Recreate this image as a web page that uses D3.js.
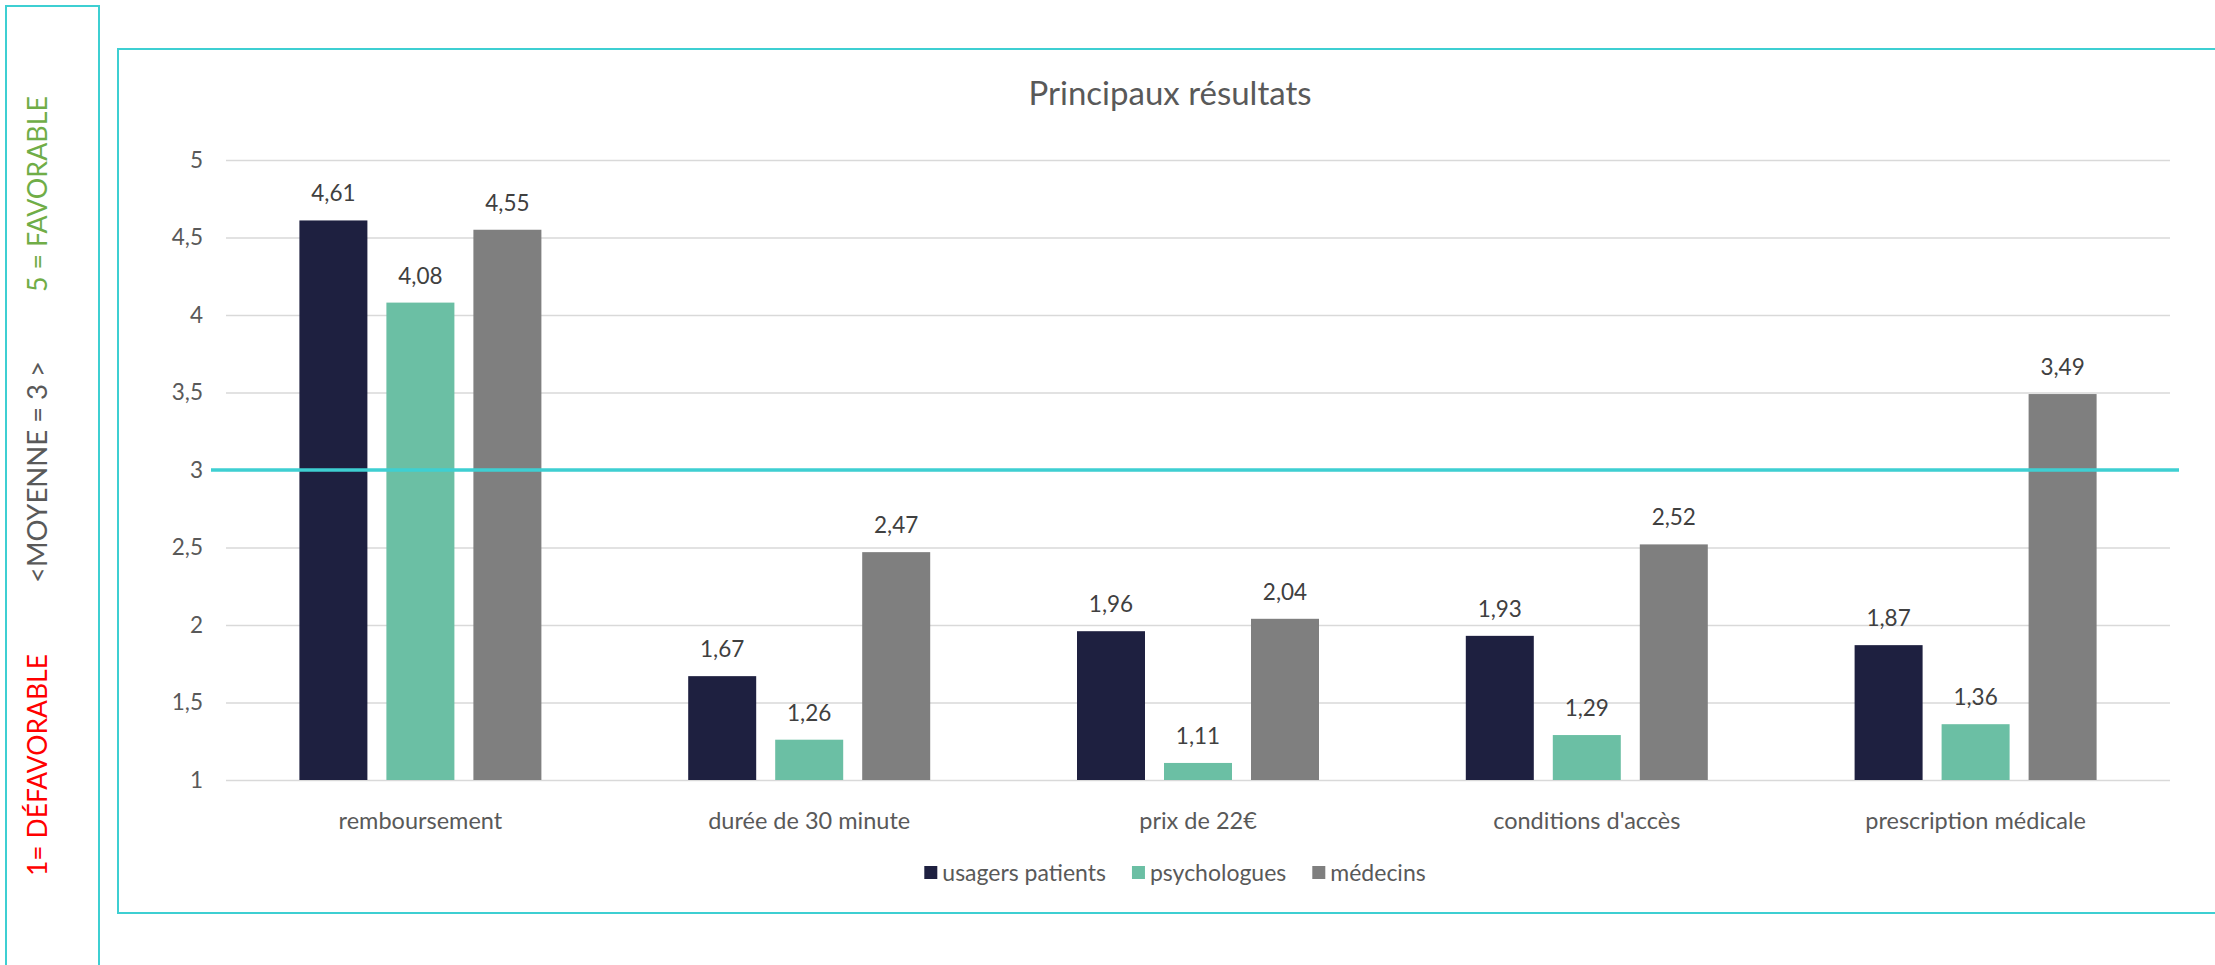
<!DOCTYPE html>
<html>
<head>
<meta charset="utf-8">
<script src="https://cdn.jsdelivr.net/npm/d3@7"></script>
<style>
    html, body { margin: 0; padding: 0; background: #fff; }
    svg { display: block; }
    text { font-family: Lato, "Noto Sans", sans-serif; }
</style>
</head>
<body>
<div id="chart"></div>
<script>
    'use strict';

    var categories = ['remboursement', 'durée de 30 minute', 'prix de 22€', 'conditions d\'accès', 'prescription médicale'],
        seriesNames = ['usagers patients', 'psychologues', 'médecins'],
        usagers = [4.61, 1.67, 1.96, 1.93, 1.87],
        psychologues = [4.08, 1.26, 1.11, 1.29, 1.36],
        medecins = [4.55, 2.47, 2.04, 2.52, 3.49],
        yTicks = [1, 1.5, 2, 2.5, 3, 3.5, 4, 4.5, 5],
        moyenne = 3,
        sideLabels = ['1= DÉFAVORABLE', '<MOYENNE = 3 >', '5 = FAVORABLE'];

    var width = 2215,
        height = 965,
        teal = '#3ECFD2',
        colors = ['#1E2040', '#6BBFA4', '#7F7F7F'],
        sideColors = ['#FF0000', '#595959', '#70AD47'],
        plot = { left: 226, right: 2170, top: 160, bottom: 780 },
        series = [usagers, psychologues, medecins],
        fr = d3.formatLocale({ decimal: ',', thousands: ' ', grouping: [3], currency: ['', '€'] }),
        fmt = fr.format('.2f'),
        fmtTick = function (v) { return String(v).replace('.', ','); };

    var svg = d3.select('#chart').append('svg')
        .attr('width', width)
        .attr('height', height);

    // frames
    svg.append('rect')
        .attr('x', 6).attr('y', 6)
        .attr('width', 93).attr('height', height + 10)
        .attr('fill', 'none')
        .attr('stroke', teal)
        .attr('stroke-width', 2);

    svg.append('rect')
        .attr('x', 118).attr('y', 49)
        .attr('width', width).attr('height', 864)
        .attr('fill', 'none')
        .attr('stroke', teal)
        .attr('stroke-width', 2);

    // side scale labels
    var sideY = [765, 472, 194];
    svg.selectAll('.side')
        .data(sideLabels)
        .enter()
        .append('text')
        .attr('class', 'side')
        .attr('transform', function (d, i) { return 'translate(47,' + sideY[i] + ') rotate(-90)'; })
        .attr('text-anchor', 'middle')
        .attr('font-family', '"Liberation Sans Narrow", "DejaVu Sans Condensed", sans-serif')
        .attr('font-size', 27)
        .attr('textLength', function (d, i) { return [222, 222, 196][i]; })
        .attr('lengthAdjust', 'spacingAndGlyphs')
        .attr('fill', function (d, i) { return sideColors[i]; })
        .text(function (d) { return d; });

    // title
    svg.append('text')
        .attr('x', 1170)
        .attr('y', 105)
        .attr('text-anchor', 'middle')
        .attr('font-size', 33)
        .attr('fill', '#595959')
        .text('Principaux résultats');

    var y = d3.scaleLinear()
        .domain([1, 5])
        .range([plot.bottom, plot.top]);

    var x = d3.scaleBand()
        .domain(categories)
        .range([plot.left, plot.right]);

    var xs = d3.scaleBand()
        .domain(seriesNames)
        .range([(x.bandwidth() - 242) / 2, (x.bandwidth() + 242) / 2])
        .paddingInner(19 / 87);

    // gridlines
    var grid = svg.append('g')
        .attr('transform', 'translate(' + plot.left + ',0)')
        .call(d3.axisLeft(y).tickValues(yTicks).tickSize(-(plot.right - plot.left)).tickFormat(''));
    grid.select('.domain').remove();
    grid.selectAll('.tick line')
        .attr('stroke', '#D9D9D9')
        .attr('stroke-width', 1.5);

    // y tick labels
    var yAxis = svg.append('g')
        .attr('transform', 'translate(203,0)')
        .call(d3.axisLeft(y).tickValues(yTicks).tickSize(0).tickPadding(0).tickFormat(fmtTick));
    yAxis.select('.domain').remove();
    yAxis.selectAll('text')
        .attr('font-family', 'Lato, sans-serif')
        .attr('font-size', 22.5)
        .attr('fill', '#595959');

    // bars
    var groups = svg.selectAll('.group')
        .data(seriesNames)
        .enter()
        .append('g')
        .attr('class', 'group');

    groups.each(function (name, si) {
        var g = d3.select(this),
            vals = series[si];

        g.selectAll('rect')
            .data(vals)
            .enter()
            .append('rect')
            .attr('x', function (d, i) { return x(categories[i]) + xs(name); })
            .attr('y', function (d) { return y(d); })
            .attr('width', xs.bandwidth())
            .attr('height', function (d) { return y(1) - y(d); })
            .attr('fill', colors[si]);

        g.selectAll('text')
            .data(vals)
            .enter()
            .append('text')
            .attr('x', function (d, i) { return x(categories[i]) + xs(name) + xs.bandwidth() / 2; })
            .attr('y', function (d) { return y(d) - 19; })
            .attr('text-anchor', 'middle')
            .attr('font-size', 22.5)
            .attr('fill', '#404040')
            .text(function (d) { return fmt(d); });
    });

    // average line
    svg.append('line')
        .attr('x1', 211)
        .attr('x2', 2179)
        .attr('y1', y(moyenne))
        .attr('y2', y(moyenne))
        .attr('stroke', teal)
        .attr('stroke-width', 3.5);

    // category labels
    svg.selectAll('.cat')
        .data(categories)
        .enter()
        .append('text')
        .attr('class', 'cat')
        .attr('x', function (d) { return x(d) + x.bandwidth() / 2; })
        .attr('y', 829)
        .attr('text-anchor', 'middle')
        .attr('font-size', 23.5)
        .attr('fill', '#595959')
        .text(function (d) { return d; });

    // legend
    var legend = svg.append('g'),
        pos = 0,
        item;

    seriesNames.forEach(function (name, i) {
        item = legend.append('g').attr('transform', 'translate(' + pos + ',0)');
        item.append('rect')
            .attr('x', 0)
            .attr('y', -7)
            .attr('width', 13)
            .attr('height', 13)
            .attr('fill', colors[i]);
        var t = item.append('text')
            .attr('x', 18)
            .attr('y', 8)
            .attr('font-size', 23)
            .attr('fill', '#595959')
            .text(name);
        pos += 18 + t.node().getComputedTextLength() + 26;
    });
    pos -= 26;
    legend.attr('transform', 'translate(' + (1175 - pos / 2) + ',873)');
</script>
</body>
</html>
